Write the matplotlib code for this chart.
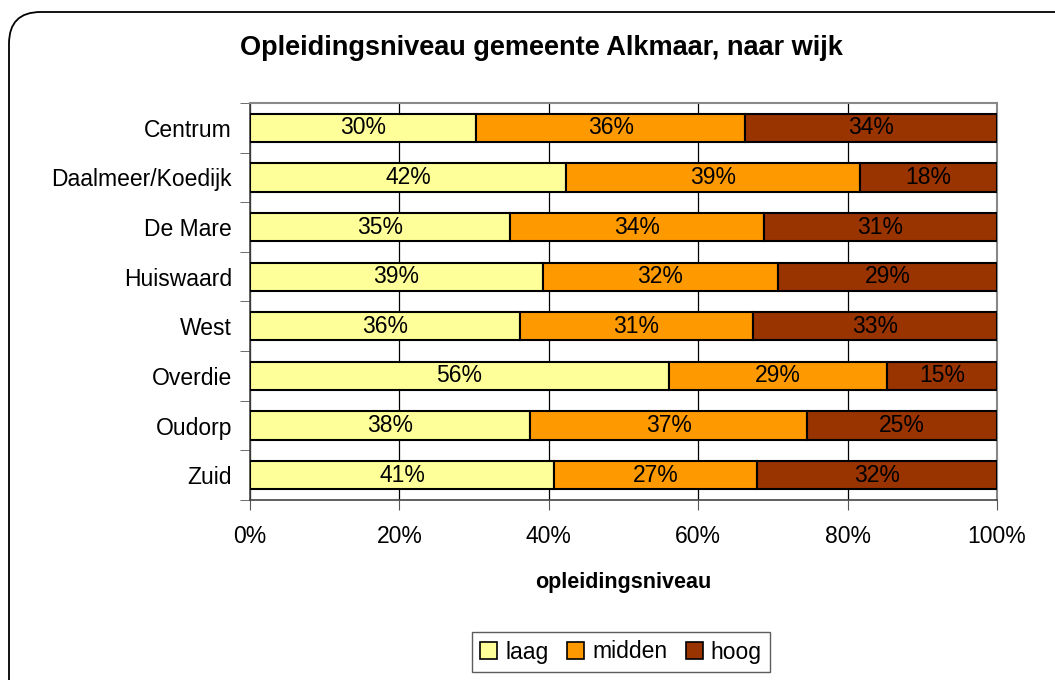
import matplotlib
matplotlib.use("Agg")
import matplotlib.pyplot as plt
from matplotlib.patches import FancyBboxPatch, Patch
import numpy as np

plt.rcParams['font.family'] = ['Liberation Sans', 'DejaVu Sans']

wijken = ["Centrum", "Daalmeer/Koedijk", "De Mare", "Huiswaard", "West", "Overdie", "Oudorp", "Zuid"]
laag = [30.3, 42.3, 34.8, 39.2, 36.1, 56.1, 37.5, 40.7]
midden = [36.0, 39.4, 34.0, 31.5, 31.2, 29.2, 37.1, 27.2]
hoog = [33.7, 18.3, 31.2, 29.3, 32.7, 14.7, 25.4, 32.1]
series_names = ["laag", "midden", "hoog"]
colors = ["#FFFF99", "#FF9900", "#993300"]
xticks = [0, 20, 40, 60, 80, 100]

W, H = 1055, 680
fig = plt.figure(figsize=(W / 100, H / 100), dpi=100)

# rounded outer frame
box = FancyBboxPatch((9 / W, 1 - 720 / H), (1090 - 9) / W, (720 - 12) / H,
                     boxstyle="round,pad=0,rounding_size=0.03",
                     transform=fig.transFigure, fill=False, edgecolor="black",
                     linewidth=1.3, mutation_aspect=W / H)
fig.patches.append(box)

ax = fig.add_axes([250 / W, 180 / H, (997 - 250) / W, (500 - 103) / H])

y = np.arange(len(wijken))
left = np.zeros(len(wijken))
for name, vals, c in zip(series_names, [laag, midden, hoog], colors):
    vals = np.array(vals)
    ax.barh(y, vals, left=left, height=0.57, color=c, edgecolor="black",
            linewidth=1.5, label=name, zorder=3)
    for yi, l, v in zip(y, left, vals):
        ax.text(l + v / 2, yi, f"{int(round(v))}%", ha="center", va="center",
                fontsize=16.5, zorder=4)
    left += vals

ax.set_xlim(0, 100)
ax.set_ylim(len(wijken) - 0.5, -0.5)
ax.set_xticks(xticks)
ax.set_xticklabels([f"{t}%" for t in xticks], fontsize=16.5)
ax.set_yticks(y)
ax.set_yticklabels(wijken, fontsize=16.5)
ax.tick_params(axis="y", which="major", length=0, pad=13)
ax.set_yticks(np.arange(-0.5, len(wijken)), minor=True)
ax.tick_params(axis="y", which="minor", length=7, color="#555555", direction="out")
ax.tick_params(axis="x", which="major", length=7, color="#555555", direction="out", pad=11)
ax.grid(axis="x", color="black", linewidth=0.9, zorder=0)
ax.set_axisbelow(True)
for s in ["top", "right"]:
    ax.spines[s].set_color("#888888")
    ax.spines[s].set_linewidth(1.5)
for s in ["left", "bottom"]:
    ax.spines[s].set_color("#444444")
    ax.spines[s].set_linewidth(1.2)

ax.set_xlabel("opleidingsniveau", fontsize=15.5, fontweight="bold", labelpad=17)
fig.text(541 / W, 1 - 48 / H, "Opleidingsniveau gemeente Alkmaar, naar wijk",
         ha="center", va="center", fontsize=19.5, fontweight="bold")

handles = [Patch(facecolor=c, edgecolor="black", linewidth=1.2, label=n)
           for n, c in zip(series_names, colors)]
leg = fig.legend(handles=handles, loc="center", bbox_to_anchor=(621 / W, 1 - 652 / H),
                 ncol=3, fontsize=16.5, frameon=True, fancybox=False, edgecolor="#333333",
                 handlelength=0.75, handleheight=0.75, handletextpad=0.35, columnspacing=0.8,
                 borderpad=0.35)
leg.get_frame().set_linewidth(1.0)

fig.savefig("out.png", dpi=100)
